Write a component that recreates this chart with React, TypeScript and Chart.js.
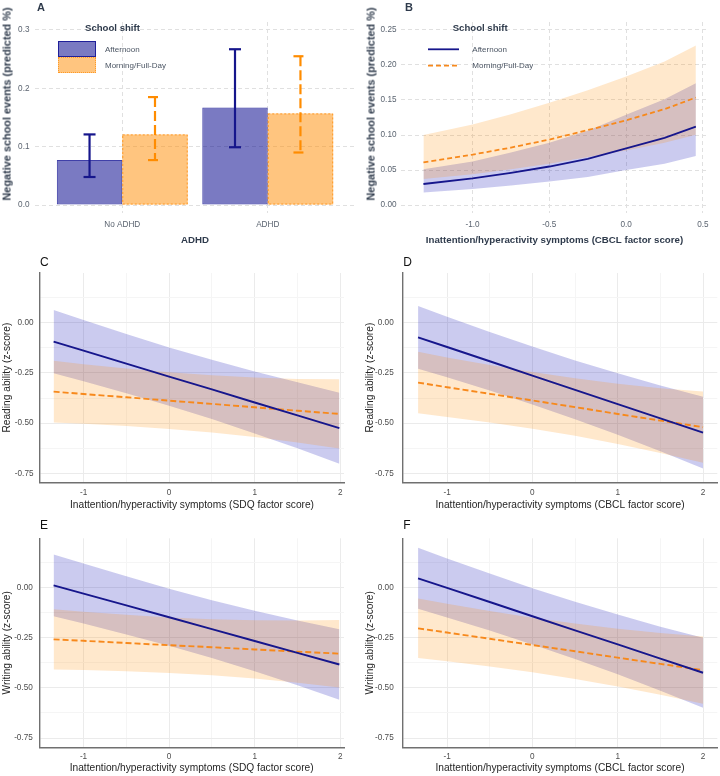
import React, { useEffect, useRef } from 'react';
import { Chart, registerables } from 'chart.js';

Chart.register(...registerables);

const FONT = '"Liberation Sans", Arial, Helvetica, sans-serif';

// Colours
const NAVY = '#16168C';
const ORANGE = '#F7891C';
const BAR_BLUE = 'rgba(0, 0, 139, 0.52)';
const BAR_BLUE_EDGE = 'rgba(0, 0, 139, 0.75)';
const BAR_ORANGE = 'rgba(255, 140, 0, 0.5)';
const BAR_ORANGE_EDGE = '#FF9A26';
const BAND_BLUE = 'rgba(20, 20, 180, 0.22)';
const BAND_ORANGE = 'rgba(255, 140, 0, 0.2)';

// ---------- A: negative school events by ADHD status ----------
const adhdGroups = ['No ADHD', 'ADHD'];
const eventsAfternoon = [0.077, 0.167];
const eventsAfternoonLow = [0.048, 0.099];
const eventsAfternoonHigh = [0.121, 0.267];
const eventsMorning = [0.121, 0.157];
const eventsMorningLow = [0.077, 0.09];
const eventsMorningHigh = [0.185, 0.255];
const eventsTicksA = [0, 0.1, 0.2, 0.3];

// ---------- B: negative school events by CBCL symptoms ----------
const cbclScoreB = [-1.32, -1.0, -0.75, -0.5, -0.25, 0, 0.25, 0.454];
const eventsCurveAfternoon = [0.03, 0.038, 0.046, 0.055, 0.066, 0.081, 0.096, 0.112];
const eventsCurveAfternoonLow = [0.018, 0.023, 0.028, 0.0335, 0.04, 0.05, 0.059, 0.07];
const eventsCurveAfternoonHigh = [0.051, 0.062, 0.075, 0.089, 0.106, 0.129, 0.151, 0.174];
const eventsCurveMorning = [0.061, 0.072, 0.082, 0.0935, 0.107, 0.121, 0.137, 0.1535];
const eventsCurveMorningLow = [0.037, 0.044, 0.051, 0.059, 0.0685, 0.078, 0.089, 0.1005];
const eventsCurveMorningHigh = [0.1, 0.115, 0.1295, 0.146, 0.164, 0.1835, 0.205, 0.228];
const eventsTicksB = [0, 0.05, 0.1, 0.15, 0.2, 0.25];
const cbclTicksB = [-1.0, -0.5, 0, 0.5];

// ---------- C: reading ability by SDQ symptoms ----------
const sdqScore = [-1.35, -1, -0.5, 0, 0.5, 1, 1.5, 1.99];
const readingSdqAfternoon = [-0.094, -0.139, -0.204, -0.268, -0.332, -0.397, -0.461, -0.525];
const readingSdqAfternoonLow = [-0.251, -0.291, -0.351, -0.413, -0.479, -0.551, -0.625, -0.702];
const readingSdqAfternoonHigh = [0.063, 0.013, -0.057, -0.123, -0.185, -0.243, -0.297, -0.348];
const readingSdqMorning = [-0.343, -0.355, -0.371, -0.388, -0.404, -0.421, -0.438, -0.454];
const readingSdqMorningLow = [-0.497, -0.503, -0.514, -0.529, -0.546, -0.569, -0.596, -0.626];
const readingSdqMorningHigh = [-0.189, -0.207, -0.228, -0.247, -0.262, -0.273, -0.28, -0.282];

// ---------- D: reading ability by CBCL symptoms ----------
const cbclScore = [-1.34, -1, -0.5, 0, 0.5, 1, 1.5, 2.0];
const readingCbclAfternoon = [-0.073, -0.121, -0.192, -0.263, -0.334, -0.405, -0.476, -0.547];
const readingCbclAfternoonLow = [-0.229, -0.272, -0.338, -0.407, -0.48, -0.558, -0.639, -0.725];
const readingCbclAfternoonHigh = [0.083, 0.03, -0.046, -0.119, -0.188, -0.252, -0.313, -0.369];
const readingCbclMorning = [-0.298, -0.321, -0.354, -0.387, -0.42, -0.454, -0.487, -0.52];
const readingCbclMorningLow = [-0.451, -0.469, -0.497, -0.528, -0.563, -0.604, -0.648, -0.697];
const readingCbclMorningHigh = [-0.145, -0.173, -0.211, -0.246, -0.277, -0.304, -0.326, -0.343];

// ---------- E: writing ability by SDQ symptoms ----------
const writingSdqAfternoon = [0.01, -0.031, -0.09, -0.149, -0.208, -0.267, -0.326, -0.384];
const writingSdqAfternoonLow = [-0.144, -0.18, -0.235, -0.291, -0.352, -0.418, -0.487, -0.56];
const writingSdqAfternoonHigh = [0.164, 0.118, 0.055, -0.007, -0.064, -0.116, -0.165, -0.208];
const writingSdqMorning = [-0.259, -0.266, -0.277, -0.288, -0.298, -0.309, -0.32, -0.33];
const writingSdqMorningLow = [-0.409, -0.411, -0.417, -0.426, -0.437, -0.454, -0.475, -0.498];
const writingSdqMorningHigh = [-0.109, -0.121, -0.137, -0.15, -0.159, -0.164, -0.165, -0.162];

// ---------- F: writing ability by CBCL symptoms ----------
const writingCbclAfternoon = [0.045, -0.003, -0.073, -0.144, -0.214, -0.284, -0.355, -0.425];
const writingCbclAfternoonLow = [-0.107, -0.15, -0.215, -0.284, -0.356, -0.433, -0.514, -0.599];
const writingCbclAfternoonHigh = [0.197, 0.144, 0.069, -0.004, -0.072, -0.135, -0.196, -0.251];
const writingCbclMorning = [-0.204, -0.225, -0.256, -0.287, -0.318, -0.35, -0.381, -0.412];
const writingCbclMorningLow = [-0.352, -0.368, -0.394, -0.423, -0.456, -0.494, -0.535, -0.579];
const writingCbclMorningHigh = [-0.056, -0.082, -0.118, -0.151, -0.18, -0.206, -0.227, -0.245];

// Shared tick sets for the z-score panels
const zTicks = [-0.75, -0.5, -0.25, 0];
const zMinorTicks = [-0.625, -0.375, -0.125, 0.125];
const symptomTicks = [-1, 0, 1, 2];
const symptomMinorTicks = [-0.5, 0.5, 1.5];

const SDQ_TITLE = 'Inattention/hyperactivity symptoms (SDQ factor score)';
const CBCL_TITLE = 'Inattention/hyperactivity symptoms (CBCL factor score)';
const EVENTS_TITLE = 'Negative school events (predicted %)';

// ---------- layout ----------
type Box = { left: number; top: number; width: number; height: number };
type Area = { left: number; top: number; right: number; bottom: number };
type AxisSpec = {
  min: number;
  max: number;
  ticks: number[];
  minor?: number[];
  fmt: (v: number) => string;
  title: string | null;
  tickPad: number;
  titlePos: number;
};
type PanelSpec = { box: Box; area: Area; theme: 'dash' | 'axis'; x: AxisSpec; y: AxisSpec };

const THEMES = {
  dash: {
    tickColor: '#5B6470', tickSize: 8.2, titleColor: '#2F3B4C', titleSize: 9.7, titleWeight: 'bold',
    grid: '#E0E0E0', minorGrid: '#E0E0E0', dash: [4, 3], border: false, borderColor: '#000', borderWidth: 0,
  },
  axis: {
    tickColor: '#4D4D4D', tickSize: 8.2, titleColor: '#262626', titleSize: 10.2, titleWeight: 'normal',
    grid: '#EBEBEB', minorGrid: '#F5F5F5', dash: [] as number[], border: true, borderColor: '#707070', borderWidth: 1.4,
  },
};

const f1 = (v: number) => v.toFixed(1);
const f2 = (v: number) => v.toFixed(2);
const fInt = (v: number) => String(Math.round(v));

function buildScales(p: PanelSpec) {
  const th = THEMES[p.theme];
  const yWidth = p.area.left - p.box.left;
  const xHeight = p.box.top + p.box.height - p.area.bottom;
  const titleLH = th.titleSize * 1.2;
  const make = (spec: AxisSpec, isX: boolean) => {
    const minor = spec.minor || [];
    return {
      type: 'linear',
      min: spec.min,
      max: spec.max,
      offset: false,
      afterBuildTicks: (scale: any) => {
        scale.ticks = [...spec.ticks, ...minor].sort((a, b) => a - b).map((v) => ({ value: v }));
      },
      afterFit: (scale: any) => {
        if (isX) scale.height = xHeight;
        else scale.width = yWidth;
      },
      ticks: {
        autoSkip: false,
        maxRotation: 0,
        minRotation: 0,
        padding: spec.tickPad,
        color: th.tickColor,
        font: { family: FONT, size: th.tickSize },
        callback: (v: any) => (minor.includes(Number(v)) ? '' : spec.fmt(Number(v))),
      },
      grid: {
        drawTicks: false,
        offset: false,
        lineWidth: 1,
        color: (c: any) => (c.tick && minor.includes(c.tick.value) ? th.minorGrid : th.grid),
      },
      border: { display: th.border, color: th.borderColor, width: th.borderWidth, dash: th.dash },
      title: {
        display: spec.title !== null,
        text: spec.title || '',
        color: th.titleColor,
        font: { family: FONT, size: th.titleSize, weight: th.titleWeight },
        padding: isX
          ? { top: 0, bottom: p.box.top + p.box.height - spec.titlePos - titleLH / 2 }
          : { top: spec.titlePos - p.box.left - titleLH / 2, bottom: 0 },
      },
    };
  };
  return { x: make(p.x, true), y: make(p.y, false) };
}

function baseOptions(p: PanelSpec) {
  return {
    responsive: false,
    animation: false,
    devicePixelRatio: 1,
    events: [],
    layout: {
      padding: {
        left: 0,
        top: p.area.top - p.box.top,
        right: p.box.left + p.box.width - p.area.right,
        bottom: 0,
      },
    },
    plugins: { legend: { display: false }, tooltip: { enabled: false } },
    scales: buildScales(p),
  };
}

const pts = (xs: number[], ys: number[]) => xs.map((x, i) => ({ x, y: ys[i] }));

// Error bars (and dotted outline) drawn on top of the bar elements
type ErrorSet = {
  datasetIndex: number;
  low: number[];
  high: number[];
  color: string;
  width: number;
  dash: number[];
  cap: number;
  outline?: { color: string; dash: number[] };
};

function errorBarPlugin(sets: ErrorSet[]) {
  return {
    id: 'errorBars',
    afterDatasetsDraw(chart: any) {
      const ctx = chart.ctx as CanvasRenderingContext2D;
      const yScale = chart.scales.y;
      sets.forEach((s) => {
        const meta = chart.getDatasetMeta(s.datasetIndex);
        meta.data.forEach((bar: any, i: number) => {
          const { x, y, base, width } = bar.getProps(['x', 'y', 'base', 'width'], true);
          ctx.save();
          if (s.outline) {
            ctx.setLineDash(s.outline.dash);
            ctx.strokeStyle = s.outline.color;
            ctx.lineWidth = 1;
            ctx.strokeRect(x - width / 2 + 0.5, y + 0.5, width - 1, base - y - 1);
          }
          const yLo = yScale.getPixelForValue(s.low[i]);
          const yHi = yScale.getPixelForValue(s.high[i]);
          ctx.setLineDash(s.dash);
          ctx.strokeStyle = s.color;
          ctx.lineWidth = s.width;
          const seg = (x1: number, y1: number, x2: number, y2: number) => {
            ctx.beginPath();
            ctx.moveTo(x1, y1);
            ctx.lineTo(x2, y2);
            ctx.stroke();
          };
          seg(x - s.cap, yHi, x + s.cap, yHi);
          seg(x, yHi, x, yLo);
          seg(x - s.cap, yLo, x + s.cap, yLo);
          ctx.restore();
        });
      });
    },
  };
}

// ---------- panel specs ----------
// The top-row y titles are placed as separate text (they sit above the panel centre).
const PANEL_A: PanelSpec = {
  box: { left: 0, top: 0, width: 360, height: 252 },
  area: { left: 35, top: 22, right: 355, bottom: 213 },
  theme: 'dash',
  x: { min: 0.4, max: 2.6, ticks: [1, 2], fmt: (v) => adhdGroups[v - 1] || '', title: 'ADHD', tickPad: 7, titlePos: 240 },
  y: { min: -0.0137, max: 0.3137, ticks: eventsTicksA, fmt: f1, title: null, tickPad: 5.5, titlePos: 0 },
};
const PANEL_B: PanelSpec = {
  box: { left: 360, top: 0, width: 360, height: 252 },
  area: { left: 401, top: 22, right: 708, bottom: 213 },
  theme: 'dash',
  x: { min: -1.466, max: 0.533, ticks: cbclTicksB, fmt: f1, title: CBCL_TITLE, tickPad: 7, titlePos: 240 },
  y: { min: -0.0114, max: 0.2614, ticks: eventsTicksB, fmt: f2, title: null, tickPad: 4.5, titlePos: 0 },
};
const zPanel = (
  box: Box, area: Area, xr: [number, number], yr: [number, number],
  xTitle: string, yTitle: string, yPad: number, yTitleX: number, xPad: number, xTitleY: number,
): PanelSpec => ({
  box, area, theme: 'axis',
  x: { min: xr[0], max: xr[1], ticks: symptomTicks, minor: symptomMinorTicks, fmt: fInt, title: xTitle, tickPad: xPad, titlePos: xTitleY },
  y: { min: yr[0], max: yr[1], ticks: zTicks, minor: zMinorTicks, fmt: f2, title: yTitle, tickPad: yPad, titlePos: yTitleX },
});
const PANEL_C = zPanel({ left: 0, top: 250, width: 360, height: 265 }, { left: 40, top: 273, right: 344, bottom: 482.3 },
  [-1.509, 2.044], [-0.794, 0.247], SDQ_TITLE, 'Reading ability (z-score)', 6.5, 7.5, 5.8, 505);
const PANEL_D = zPanel({ left: 360, top: 250, width: 360, height: 265 }, { left: 402.7, top: 273, right: 717.3, bottom: 482.3 },
  [-1.52, 2.167], [-0.794, 0.247], CBCL_TITLE, 'Reading ability (z-score)', 9, 370.5, 5.8, 505);
const PANEL_E = zPanel({ left: 0, top: 510, width: 360, height: 266 }, { left: 39.3, top: 538.3, right: 344, bottom: 747.3 },
  [-1.517, 2.044], [-0.796, 0.244], SDQ_TITLE, 'Writing ability (z-score)', 6.5, 7.5, 4.8, 768.3);
const PANEL_F = zPanel({ left: 360, top: 510, width: 360, height: 266 }, { left: 402.7, top: 538.3, right: 717.3, bottom: 747.3 },
  [-1.52, 2.167], [-0.796, 0.244], CBCL_TITLE, 'Writing ability (z-score)', 9, 370.5, 4.8, 768.3);

// ---------- chart configs ----------
function barConfig() {
  const p = PANEL_A;
  return {
    type: 'bar',
    data: {
      datasets: [
        {
          label: 'Afternoon',
          data: adhdGroups.map((_, i) => ({ x: i + 1, y: eventsAfternoon[i] })),
          backgroundColor: BAR_BLUE,
          borderColor: BAR_BLUE_EDGE,
          borderWidth: 1,
          borderSkipped: false,
          categoryPercentage: 0.9,
          barPercentage: 1,
        },
        {
          label: 'Morning/Full-Day',
          data: adhdGroups.map((_, i) => ({ x: i + 1, y: eventsMorning[i] })),
          backgroundColor: BAR_ORANGE,
          borderWidth: 0,
          categoryPercentage: 0.9,
          barPercentage: 1,
        },
      ],
    },
    options: baseOptions(p),
    plugins: [
      errorBarPlugin([
        { datasetIndex: 0, low: eventsAfternoonLow, high: eventsAfternoonHigh, color: NAVY, width: 2.2, dash: [], cap: 6 },
        {
          datasetIndex: 1, low: eventsMorningLow, high: eventsMorningHigh, color: '#FF8C00', width: 2.2, dash: [10, 4], cap: 7,
          outline: { color: BAR_ORANGE_EDGE, dash: [2, 2] },
        },
      ]),
    ],
  };
}

type BandSeries = {
  x: number[];
  afternoon: number[]; afternoonLow: number[]; afternoonHigh: number[];
  morning: number[]; morningLow: number[]; morningHigh: number[];
};

function bandConfig(p: PanelSpec, s: BandSeries, lineW: number, dash: number[]) {
  const edge = { borderWidth: 0, borderColor: 'transparent', pointRadius: 0 };
  return {
    type: 'line',
    data: {
      datasets: [
        { label: 'Afternoon', data: pts(s.x, s.afternoon), borderColor: NAVY, borderWidth: lineW, pointRadius: 0, fill: false, order: 0 },
        { label: 'Morning/Full-Day', data: pts(s.x, s.morning), borderColor: ORANGE, borderWidth: lineW, borderDash: dash, pointRadius: 0, fill: false, order: 1 },
        { ...edge, data: pts(s.x, s.afternoonLow), fill: false, order: 4 },
        { ...edge, data: pts(s.x, s.afternoonHigh), fill: '-1', backgroundColor: BAND_BLUE, order: 4 },
        { ...edge, data: pts(s.x, s.morningLow), fill: false, order: 2 },
        { ...edge, data: pts(s.x, s.morningHigh), fill: '-1', backgroundColor: BAND_ORANGE, order: 2 },
      ],
    },
    options: { ...baseOptions(p), elements: { line: { tension: 0 } } },
  };
}

const seriesB: BandSeries = {
  x: cbclScoreB,
  afternoon: eventsCurveAfternoon, afternoonLow: eventsCurveAfternoonLow, afternoonHigh: eventsCurveAfternoonHigh,
  morning: eventsCurveMorning, morningLow: eventsCurveMorningLow, morningHigh: eventsCurveMorningHigh,
};
const seriesC: BandSeries = {
  x: sdqScore,
  afternoon: readingSdqAfternoon, afternoonLow: readingSdqAfternoonLow, afternoonHigh: readingSdqAfternoonHigh,
  morning: readingSdqMorning, morningLow: readingSdqMorningLow, morningHigh: readingSdqMorningHigh,
};
const seriesD: BandSeries = {
  x: cbclScore,
  afternoon: readingCbclAfternoon, afternoonLow: readingCbclAfternoonLow, afternoonHigh: readingCbclAfternoonHigh,
  morning: readingCbclMorning, morningLow: readingCbclMorningLow, morningHigh: readingCbclMorningHigh,
};
const seriesE: BandSeries = {
  x: sdqScore,
  afternoon: writingSdqAfternoon, afternoonLow: writingSdqAfternoonLow, afternoonHigh: writingSdqAfternoonHigh,
  morning: writingSdqMorning, morningLow: writingSdqMorningLow, morningHigh: writingSdqMorningHigh,
};
const seriesF: BandSeries = {
  x: cbclScore,
  afternoon: writingCbclAfternoon, afternoonLow: writingCbclAfternoonLow, afternoonHigh: writingCbclAfternoonHigh,
  morning: writingCbclMorning, morningLow: writingCbclMorningLow, morningHigh: writingCbclMorningHigh,
};

// ---------- React pieces ----------
function PanelCanvas({ box, make }: { box: Box; make: () => any }) {
  const ref = useRef<HTMLCanvasElement>(null);
  useEffect(() => {
    if (!ref.current) return;
    const chart = new Chart(ref.current, make());
    return () => chart.destroy();
  }, []);
  return (
    <canvas
      ref={ref}
      width={box.width}
      height={box.height}
      style={{ position: 'absolute', left: box.left, top: box.top, width: box.width, height: box.height }}
    />
  );
}

function Txt({ x, y, size, weight = 400, color, children }: { x: number; y: number; size: number; weight?: number; color: string; children: React.ReactNode }) {
  return (
    <div
      style={{
        position: 'absolute', left: x, top: y, transform: 'translateY(-50%)',
        fontFamily: FONT, fontSize: size, fontWeight: weight, color, lineHeight: 1, whiteSpace: 'nowrap',
      }}
    >
      {children}
    </div>
  );
}

function VTitle({ cx, cy, size, children }: { cx: number; cy: number; size: number; children: React.ReactNode }) {
  return (
    <div
      style={{
        position: 'absolute', left: cx, top: cy, transform: 'translate(-50%, -50%) rotate(-90deg)',
        fontFamily: FONT, fontSize: size, fontWeight: 700, color: '#2F3B4C', lineHeight: 1, whiteSpace: 'nowrap',
      }}
    >
      {children}
    </div>
  );
}

const LEGEND_TITLE = '#2F3B4C';
const LEGEND_TEXT = '#4B5563';

function BarLegend() {
  return (
    <>
      <Txt x={85} y={28} size={9.6} weight={700} color={LEGEND_TITLE}>School shift</Txt>
      <div style={{ position: 'absolute', left: 58, top: 41, width: 38, height: 16, boxSizing: 'border-box', background: BAR_BLUE, border: `1px solid ${BAR_BLUE_EDGE}` }} />
      <div style={{ position: 'absolute', left: 58, top: 57, width: 38, height: 16, boxSizing: 'border-box', background: BAR_ORANGE, border: `1px dotted ${BAR_ORANGE_EDGE}` }} />
      <Txt x={105} y={50} size={8} color={LEGEND_TEXT}>Afternoon</Txt>
      <Txt x={105} y={66} size={8} color={LEGEND_TEXT}>Morning/Full-Day</Txt>
    </>
  );
}

function LineLegend() {
  return (
    <>
      <Txt x={452.7} y={28} size={9.6} weight={700} color={LEGEND_TITLE}>School shift</Txt>
      <svg style={{ position: 'absolute', left: 428, top: 44 }} width={32} height={28}>
        <line x1={0} y1={5.3} x2={31} y2={5.3} stroke={NAVY} strokeWidth={1.8} />
        <line x1={0} y1={21.7} x2={31} y2={21.7} stroke={ORANGE} strokeWidth={1.8} strokeDasharray="5 3" />
      </svg>
      <Txt x={472.3} y={50} size={8} color={LEGEND_TEXT}>Afternoon</Txt>
      <Txt x={472.3} y={66} size={8} color={LEGEND_TEXT}>Morning/Full-Day</Txt>
    </>
  );
}

export default function App() {
  return (
    <div style={{ position: 'absolute', left: 0, top: 0, width: 720, height: 776, background: '#fff', overflow: 'hidden' }}>
      <PanelCanvas box={PANEL_A.box} make={barConfig} />
      <PanelCanvas box={PANEL_B.box} make={() => bandConfig(PANEL_B, seriesB, 1.8, [5, 3])} />
      <PanelCanvas box={PANEL_C.box} make={() => bandConfig(PANEL_C, seriesC, 1.9, [6, 3])} />
      <PanelCanvas box={PANEL_D.box} make={() => bandConfig(PANEL_D, seriesD, 1.9, [6, 3])} />
      <PanelCanvas box={PANEL_E.box} make={() => bandConfig(PANEL_E, seriesE, 1.9, [6, 3])} />
      <PanelCanvas box={PANEL_F.box} make={() => bandConfig(PANEL_F, seriesF, 1.9, [6, 3])} />

      <VTitle cx={6.7} cy={104} size={10.9}>{EVENTS_TITLE}</VTitle>
      <VTitle cx={371} cy={104} size={10.9}>{EVENTS_TITLE}</VTitle>

      <BarLegend />
      <LineLegend />

      <Txt x={37} y={7} size={11} weight={700} color="#2F3B4C">A</Txt>
      <Txt x={405} y={7} size={11} weight={700} color="#2F3B4C">B</Txt>
      <Txt x={40} y={261.7} size={12} color="#111">C</Txt>
      <Txt x={403.3} y={261.7} size={12} color="#111">D</Txt>
      <Txt x={40} y={525} size={12} color="#111">E</Txt>
      <Txt x={403.3} y={525} size={12} color="#111">F</Txt>
    </div>
  );
}
